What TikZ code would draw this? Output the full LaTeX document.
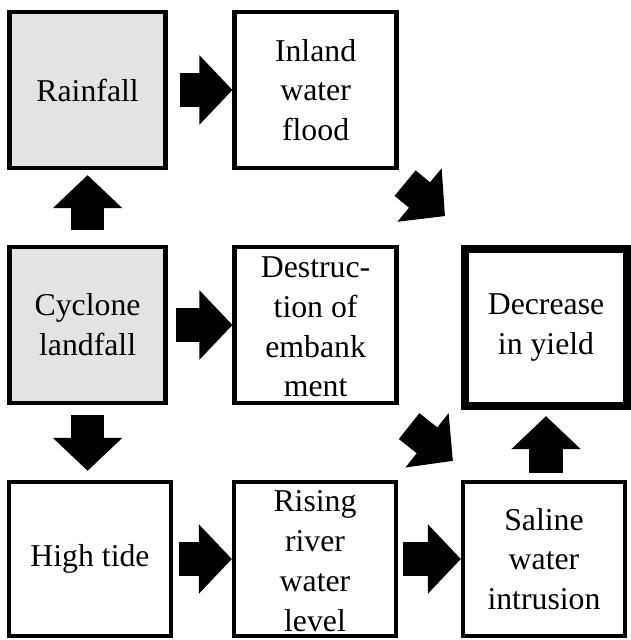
\documentclass[tikz,border=0pt]{standalone}
\usepackage{fontspec}
\setmainfont{Liberation Serif}
\usepackage{xcolor}
\usepackage{tikz}
\usetikzlibrary{calc}
\usetikzlibrary{arrows.meta}
\definecolor{boxgray}{RGB}{227,227,227}
\tikzset{
  box/.style={rectangle, draw=black, line width=3pt, minimum width=4.05cm, minimum height=3.9cm, inner sep=0pt},
  txt/.style={align=center, inner sep=0pt, font=\fontsize{22.6}{28.3}\selectfont},
  flow/.style={line width=23.5pt, -{Triangle[width=48pt, length=23.5pt]}}
}

\begin{document}
\begin{tikzpicture}
\useasboundingbox (0, 0) rectangle (15.75, -16);
\node [box, fill=boxgray, minimum width=3.9cm] (rain) at (2.19, -2.25) {};
\node [box] (flood) at (7.89, -2.25) {};
\node [box, fill=boxgray, minimum width=3.9cm] (cyclone) at (2.19, -8.125) {};
\node [box] (destr) at (7.89, -8.125) {};
\node [box, line width=5.7pt, minimum height=3.925cm] (yield) at (13.65, -8.19) {};
\node [box, minimum height=3.85cm] (tide) at (2.25, -13.975) {};
\node [box, minimum height=3.85cm] (rising) at (7.875, -13.975) {};
\node [box, minimum height=3.85cm] (saline) at (13.6, -13.975) {};
\node [txt] (raintxt) at (rain) {Rainfall};
\node [txt] (floodtxt) at (flood) {Inland\\water\\flood};
\node [txt] (cyclonetxt) at (cyclone) {Cyclone\\landfall};
\node [txt] (destrtxt) at ($(destr)+(0, -0.05)$) {Destruc-\\tion of\\embank\\ment};
\node [txt] (yieldtxt) at (yield) {Decrease\\in yield};
\node [txt] (tidetxt) at (tide) {High tide};
\node [txt] (risingtxt) at ($(rising)+(0, -0.05)$) {Rising\\river\\water\\level};
\node [txt] (salinetxt) at (saline) {Saline\\water\\intrusion};
\coordinate (floodout) at ($(flood.south east)+(0.16, -0.325)$);
\coordinate (yieldin) at ($(yield.north west)+(-0.4, 0.725)$);
\coordinate (destrout) at ($(destr.south east)+(0.26, -0.525)$);
\coordinate (salinein) at ($(saline.north west)+(-0.2, 0.475)$);
\draw [flow, shorten <=0.3cm] (rain.east) to (flood.west);
\draw [flow, shorten <=0.375cm, shorten >=0.125cm] (cyclone.north) to (rain.south);
\draw [flow, shorten <=0.2cm] (cyclone.east) to (destr.west);
\draw [flow, shorten <=0.25cm, shorten >=0.225cm] (cyclone.south) to (cyclone.south |- tide.north);
\draw [flow, shorten <=0.15cm] (tide.east) to (rising.west);
\draw [flow, shorten <=0.125cm] (rising.east) to (saline.west);
\draw [flow, shorten <=0.175cm, shorten >=0.15cm] (yield.south |- saline.north) to (yield.south);
\draw [flow] (floodout) to (yieldin);
\draw [flow] (destrout) to (salinein);
\end{tikzpicture}
\end{document}
